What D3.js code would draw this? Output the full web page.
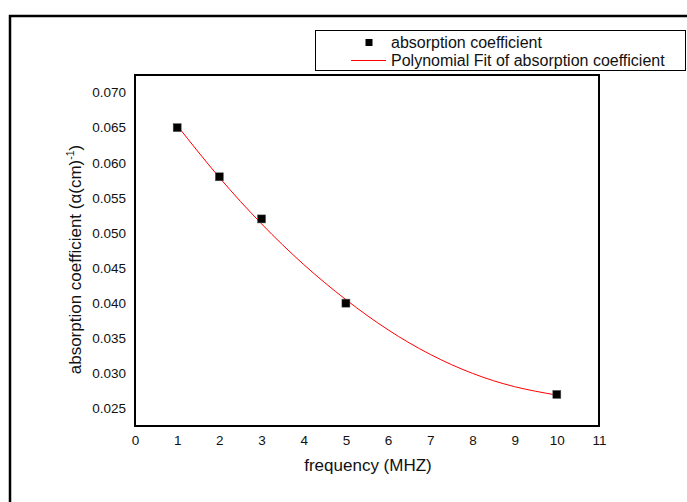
<!DOCTYPE html>
<html>
<head>
<meta charset="utf-8">
<script src="https://cdn.jsdelivr.net/npm/d3@7"></script>
<style>
  html, body { margin: 0; padding: 0; background: #fff; }
  svg { display: block; font-family: "Liberation Sans", Arial, sans-serif; }
</style>
</head>
<body>
<svg id="chart" width="687" height="502"></svg>
<script>
// ---- data ----
const freq = [1, 2, 3, 5, 10];
const absorption = [0.065, 0.058, 0.052, 0.040, 0.027];
// polynomial fit curve
const fitX = [1, 2, 3, 4, 5, 6, 7, 8, 9, 10];
const fitY = [0.0653, 0.0579, 0.0513, 0.0455, 0.0405, 0.0362, 0.0327, 0.0300, 0.0281, 0.0269];
const xTicks = [0, 1, 2, 3, 4, 5, 6, 7, 8, 9, 10, 11];
const yTicks = [0.025, 0.030, 0.035, 0.040, 0.045, 0.050, 0.055, 0.060, 0.065, 0.070];
const seriesNames = ["absorption coefficient", "Polynomial Fit of absorption coefficient"];

const svg = d3.select("#chart");
const plot = { left: 135, top: 75, right: 599, bottom: 426 };

// outer frame (extends past the right and bottom edges)
svg.append("rect")
  .attr("x", 10).attr("y", 16)
  .attr("width", 800).attr("height", 700)
  .attr("fill", "none").attr("stroke", "#000").attr("stroke-width", 2.5);

const x = d3.scaleLinear().domain([0, 11]).range([plot.left, plot.right]);
const y = d3.scaleLinear().domain([0.0225, 0.0725]).range([plot.bottom, plot.top]);

// axes (labels only, no tick marks)
const xAxis = svg.append("g")
  .attr("transform", `translate(0,${plot.bottom})`)
  .call(d3.axisBottom(x).tickValues(xTicks).tickSize(0).tickPadding(9).tickFormat(d3.format("d")));
xAxis.select(".domain").remove();
xAxis.selectAll("text").attr("font-size", 13.5).attr("fill", "#111")
  .attr("font-family", "Liberation Sans, Arial, sans-serif");

const yAxis = svg.append("g")
  .attr("transform", `translate(${plot.left},0)`)
  .call(d3.axisLeft(y).tickValues(yTicks).tickSize(0).tickPadding(9).tickFormat(d3.format(".3f")));
yAxis.select(".domain").remove();
yAxis.selectAll("text").attr("font-size", 13.5).attr("fill", "#111")
  .attr("font-family", "Liberation Sans, Arial, sans-serif");

// plot frame
svg.append("rect")
  .attr("x", plot.left).attr("y", plot.top)
  .attr("width", plot.right - plot.left).attr("height", plot.bottom - plot.top)
  .attr("fill", "none").attr("stroke", "#000").attr("stroke-width", 2);

// fit curve
const line = d3.line().x((d, i) => x(fitX[i])).y(d => y(d)).curve(d3.curveNatural);
svg.append("path")
  .attr("d", line(fitY))
  .attr("fill", "none").attr("stroke", "#ff0000").attr("stroke-width", 1);

// data markers
const ms = 8;
svg.append("g").selectAll("rect")
  .data(freq.map((f, i) => [f, absorption[i]]))
  .join("rect")
  .attr("x", d => x(d[0]) - ms / 2)
  .attr("y", d => y(d[1]) - ms / 2)
  .attr("width", ms).attr("height", ms)
  .attr("fill", "#000").attr("stroke", "#555").attr("stroke-width", 0.5);

// axis titles
svg.append("text")
  .attr("x", (plot.left + plot.right) / 2 + 1).attr("y", 471)
  .attr("text-anchor", "middle").attr("font-size", 17).attr("fill", "#111")
  .text("frequency (MHZ)");

const yt = svg.append("text")
  .attr("transform", `translate(81,${(plot.top + plot.bottom) / 2 + 9}) rotate(-90)`)
  .attr("text-anchor", "middle").attr("font-size", 17).attr("fill", "#111");
yt.append("tspan").text("absorption coefficient (α(cm)");
yt.append("tspan").attr("font-size", 10.5).attr("dy", -7).text("-1");
yt.append("tspan").attr("dy", 7).text(")");

// legend
const lg = svg.append("g");
lg.append("rect")
  .attr("x", 315.5).attr("y", 30.5).attr("width", 370).attr("height", 40)
  .attr("fill", "#fff").attr("stroke", "#000").attr("stroke-width", 1);
lg.append("rect")
  .attr("x", 369 - 3.5).attr("y", 42.5 - 3.5).attr("width", 7).attr("height", 7)
  .attr("fill", "#000");
lg.append("line")
  .attr("x1", 351).attr("x2", 386).attr("y1", 60.5).attr("y2", 60.5)
  .attr("stroke", "#ff0000").attr("stroke-width", 1);
lg.selectAll("text.leg")
  .data(seriesNames)
  .join("text")
  .attr("class", "leg")
  .attr("x", 391).attr("y", (d, i) => 48 + i * 18)
  .attr("font-size", 16).attr("fill", "#111")
  .text(d => d);
</script>
</body>
</html>
